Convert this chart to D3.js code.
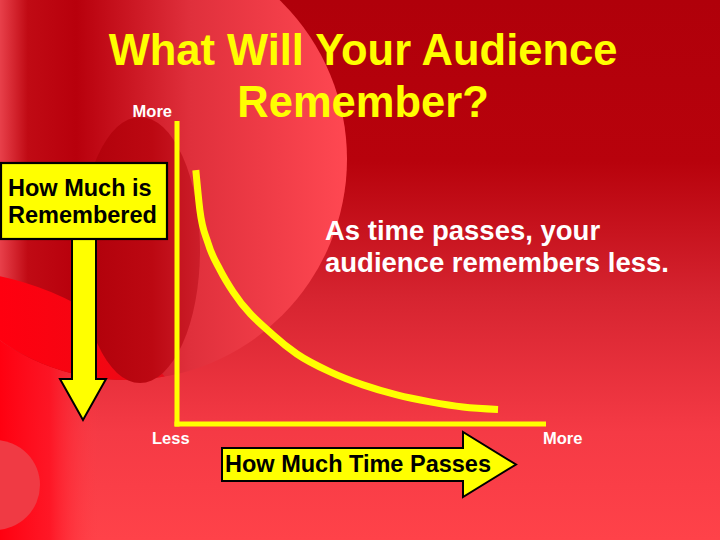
<!DOCTYPE html>
<html>
<head>
<meta charset="utf-8">
<script src="https://cdn.jsdelivr.net/npm/d3@7"></script>
<style>
  html, body { margin: 0; padding: 0; background: #b0000a; }
  svg { display: block; }
  text { font-family: "Liberation Sans", Arial, Helvetica, sans-serif; font-weight: bold; }
</style>
</head>
<body>
<svg id="chart" width="720" height="540"></svg>
<script>
// ---- data ----
const titleLines = ["What Will Your Audience", "Remember?"];
const noteLines = ["As time passes, your", "audience remembers less."];
const yAxisTitle = ["How Much is", "Remembered"];
const xAxisTitle = "How Much Time Passes";
const yTickLabels = ["Less", "More"];   // bottom, top of the "remembered" axis
const xTickLabels = ["Less", "More"];   // left, right of the "time" axis
const timeValues       = [5.1, 6.2, 8.4, 11.7, 15.2, 26.0, 32.5, 41.5, 50.4, 59.6, 68.6, 77.5, 87.0];
const rememberedValues = [83.8, 70.6, 59.7, 50.8, 43.6, 29.4, 23.1, 17.2, 12.9, 9.6, 7.3, 5.6, 4.8];

const W = 720, H = 540;
const svg = d3.select("#chart");
const defs = svg.append("defs");

function linGrad(id, x1, y1, x2, y2, stops) {
  const g = defs.append("linearGradient").attr("id", id)
    .attr("gradientUnits", "userSpaceOnUse")
    .attr("x1", x1).attr("y1", y1).attr("x2", x2).attr("y2", y2);
  stops.forEach(s => g.append("stop").attr("offset", s[0]).attr("stop-color", s[1]).attr("stop-opacity", s[2] == null ? 1 : s[2]));
}

// ---- background ----
linGrad("bgBase", 0, 0, 0, H, [[0, "#b0000a"], [0.3, "#b8020c"], [0.55, "#d62430"], [0.8, "#f53a45"], [1, "#ff4249"]]);
linGrad("bigCirc", 0, 0, 347, 0, [[0, "#e8404a"], [0.08, "#c00a14"], [0.22, "#b8000c"], [0.55, "#e0303c"], [1, "#ff4852"]]);
linGrad("brightCirc", 0, 0, 200, 0, [[0, "#ff0010"], [0.5, "#f40612"], [1, "#e01020"]]);
linGrad("innerEll", 80, 0, 200, 0, [[0, "#b0000a"], [0.6, "#bc0812"], [1, "#cc1e2a"]]);
linGrad("leftBand", 0, 0, 100, 0, [[0, "#ff0010", 1], [0.5, "#ff1020", 0.85], [1, "#ff4048", 0]]);

svg.append("rect").attr("width", W).attr("height", H).attr("fill", "url(#bgBase)");
svg.append("rect").attr("x", 0).attr("y", 270).attr("width", 100).attr("height", 270).attr("fill", "url(#leftBand)");

defs.append("clipPath").attr("id", "bigClip")
  .append("circle").attr("cx", 126).attr("cy", 159).attr("r", 221);
svg.append("circle").attr("cx", 126).attr("cy", 159).attr("r", 221).attr("fill", "url(#bigCirc)");
svg.append("circle").attr("cx", -60).attr("cy", 560).attr("r", 290)
  .attr("fill", "url(#brightCirc)").attr("clip-path", "url(#bigClip)");
svg.append("ellipse").attr("cx", 140).attr("cy", 250).attr("rx", 60).attr("ry", 133).attr("fill", "url(#innerEll)");
svg.append("circle").attr("cx", -5).attr("cy", 485).attr("r", 45).attr("fill", "#f03a44");

// ---- scales ----
const x = d3.scaleLinear().domain([0, 100]).range([177, 546]);
const y = d3.scaleLinear().domain([0, 100]).range([424, 121]);

const yellow = "#ffff00";

// ---- title ----
const title = svg.append("text").attr("text-anchor", "middle").attr("fill", yellow).attr("font-size", 43.5);
titleLines.forEach((t, i) => title.append("tspan").attr("x", 363).attr("y", 65 + i * 52).text(t));

// ---- axes (domain lines only) ----
svg.append("line")
  .attr("x1", x(0)).attr("x2", x(0))
  .attr("y1", y(100)).attr("y2", y(0) + 2.5)
  .attr("stroke", yellow).attr("stroke-width", 5);
svg.append("line")
  .attr("x1", x(0) - 2.5).attr("x2", x(100))
  .attr("y1", y(0)).attr("y2", y(0))
  .attr("stroke", yellow).attr("stroke-width", 5);

// axis end labels
const lab = svg.append("g").attr("fill", "#ffffff").attr("font-size", 16.5);
lab.append("text").attr("x", x(0) - 5).attr("y", y(100) - 4).attr("text-anchor", "end").text(yTickLabels[1]);
lab.append("text").attr("x", x(0) - 25).attr("y", y(0) + 20).text(xTickLabels[0]);
lab.append("text").attr("x", x(100) - 3).attr("y", y(0) + 20).text(xTickLabels[1]);

// ---- curve ----
const pts = timeValues.map((t, i) => [t, rememberedValues[i]]);
const line = d3.line().x(d => x(d[0])).y(d => y(d[1])).curve(d3.curveMonotoneX);
svg.append("path").datum(pts).attr("d", line)
  .attr("fill", "none").attr("stroke", yellow).attr("stroke-width", 7).attr("stroke-linecap", "butt");

// ---- note ----
const note = svg.append("text").attr("fill", "#ffffff").attr("font-size", 27.5);
noteLines.forEach((t, i) => note.append("tspan").attr("x", 325).attr("y", 240 + i * 32).text(t));

// ---- down arrow (How Much is Remembered) ----
const downArrow = d3.path();
downArrow.moveTo(72, 236); downArrow.lineTo(96, 236); downArrow.lineTo(96, 379);
downArrow.lineTo(106, 379); downArrow.lineTo(83, 420); downArrow.lineTo(60, 379);
downArrow.lineTo(72, 379); downArrow.closePath();
svg.append("path").attr("d", downArrow.toString()).attr("fill", yellow)
  .attr("stroke", "#000").attr("stroke-width", 2).attr("stroke-linejoin", "miter");

svg.append("rect").attr("x", 1).attr("y", 163).attr("width", 166).attr("height", 76)
  .attr("fill", yellow).attr("stroke", "#000").attr("stroke-width", 2.2);
const yt = svg.append("text").attr("fill", "#000").attr("font-size", 23.5);
yAxisTitle.forEach((t, i) => yt.append("tspan").attr("x", 8).attr("y", 196 + i * 27).text(t));

// ---- right arrow (How Much Time Passes) ----
const rightArrow = d3.path();
rightArrow.moveTo(222, 448); rightArrow.lineTo(463, 448); rightArrow.lineTo(463, 432);
rightArrow.lineTo(516, 464.5); rightArrow.lineTo(463, 497); rightArrow.lineTo(463, 481);
rightArrow.lineTo(222, 481); rightArrow.closePath();
svg.append("path").attr("d", rightArrow.toString()).attr("fill", yellow)
  .attr("stroke", "#000").attr("stroke-width", 2).attr("stroke-linejoin", "miter");
svg.append("text").attr("x", 225).attr("y", 472).attr("fill", "#000").attr("font-size", 23.5).text(xAxisTitle);
</script>
</body>
</html>
